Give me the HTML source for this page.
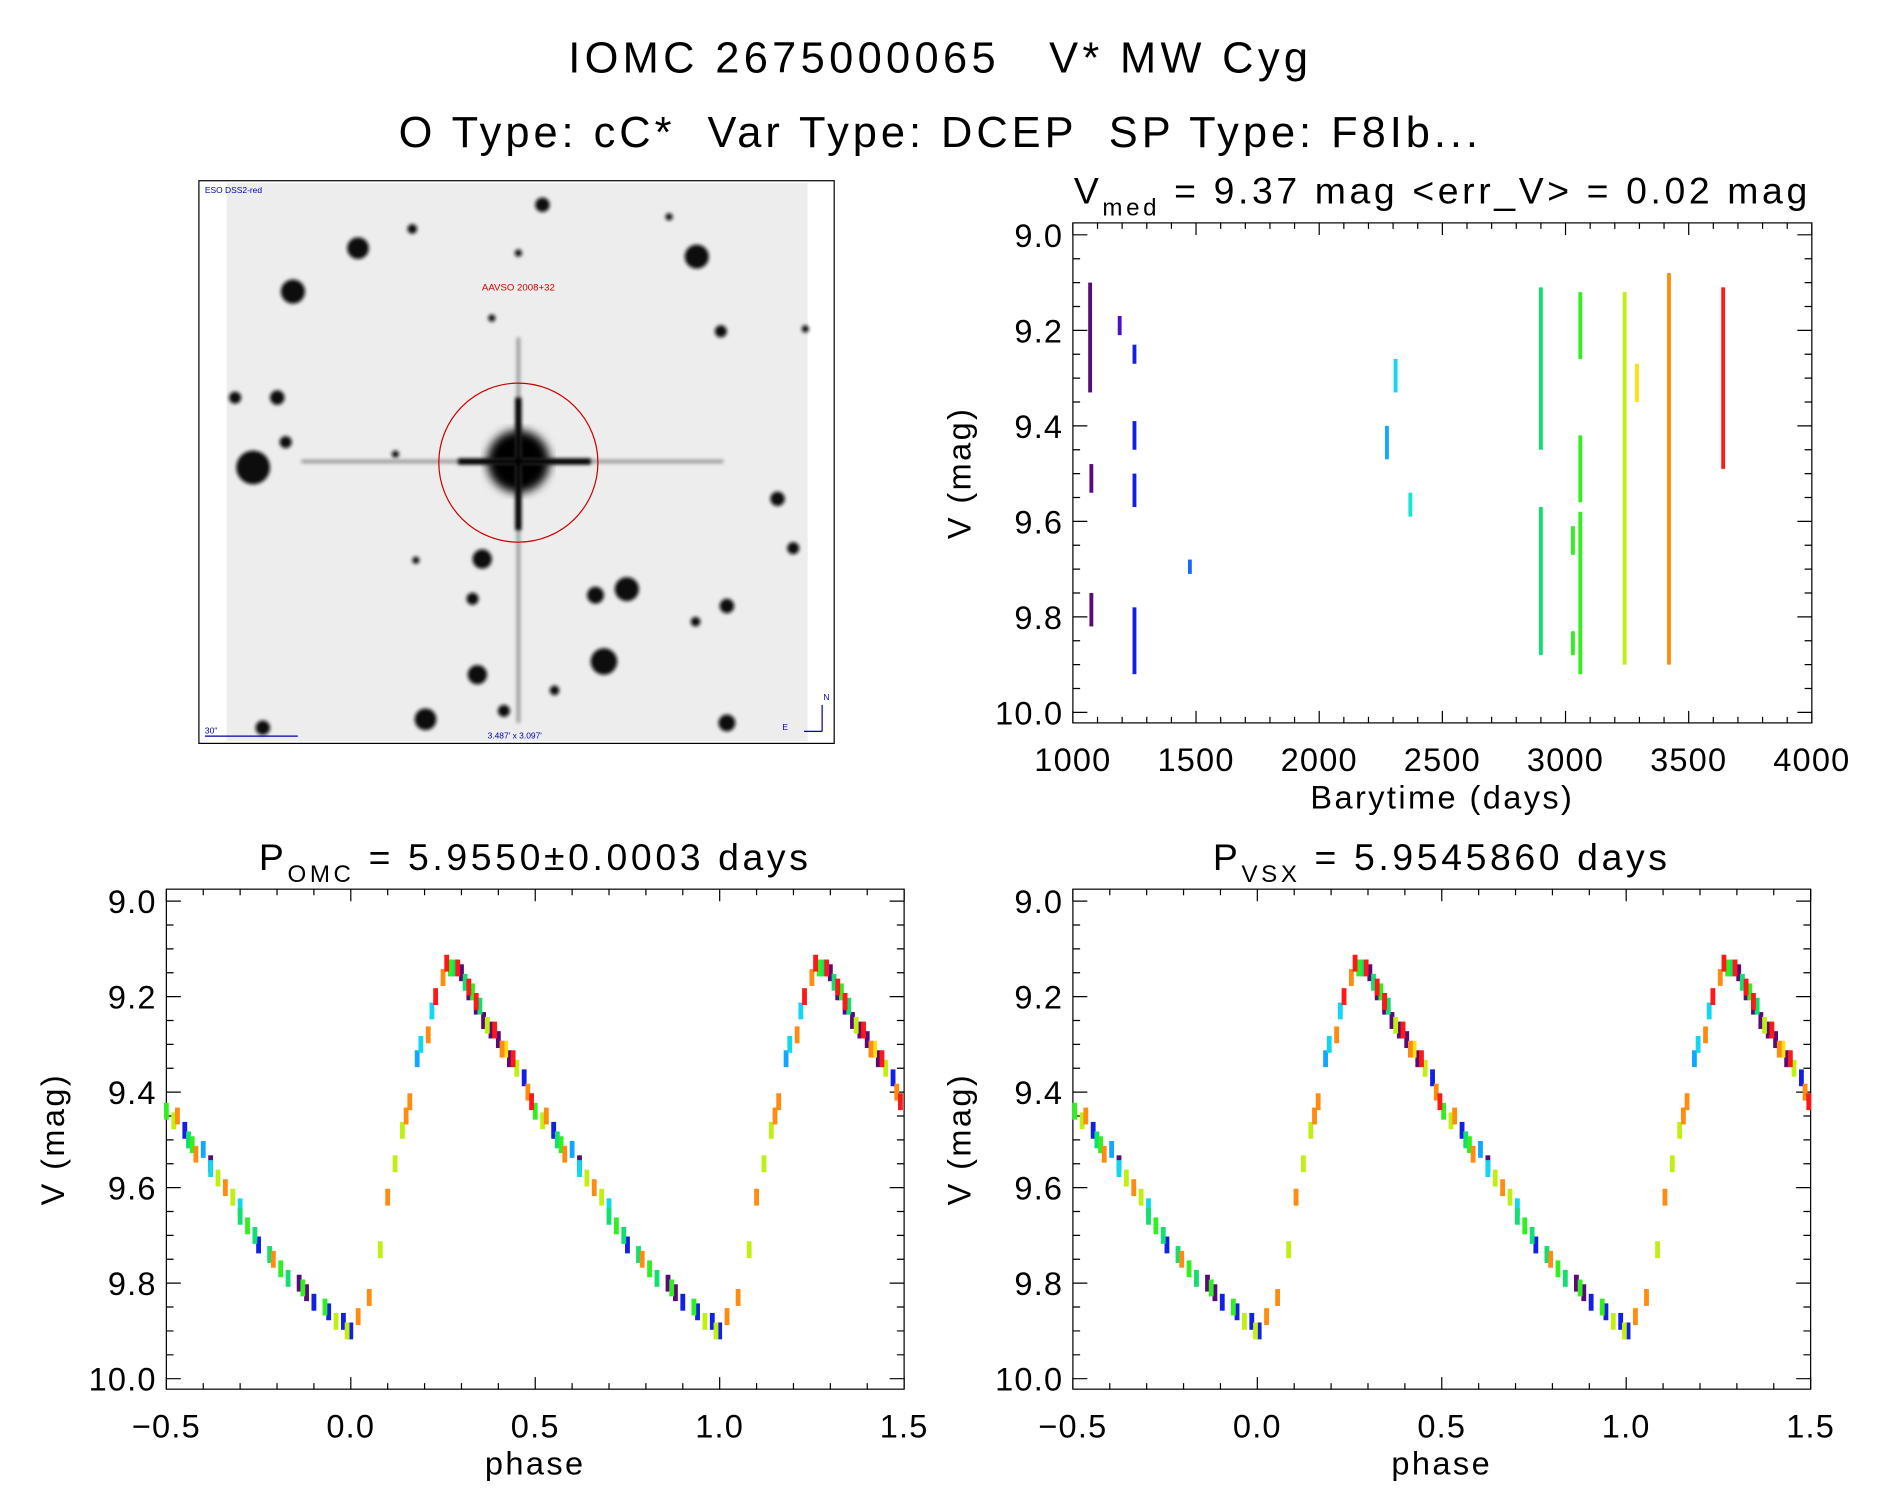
<!DOCTYPE html>
<html><head><meta charset="utf-8"><style>
html,body{margin:0;padding:0;background:#fff}
svg{display:block}
text{font-family:"Liberation Sans",sans-serif;fill:#000}
</style></head><body>
<svg id="fig" width="1889" height="1494" viewBox="0 0 1567 1240" preserveAspectRatio="none">
<text x="780" y="60" font-size="36" text-anchor="middle" letter-spacing="3.6">IOMC 2675000065 &#160;&#160;V* MW Cyg</text>
<text x="780" y="122" font-size="36" text-anchor="middle" letter-spacing="3.3">O Type: cC* &#160;Var Type: DCEP &#160;SP Type: F8Ib...</text>
<g id="img">
<defs><filter id="bl"><feGaussianBlur stdDeviation="1.5"/></filter><filter id="bl2"><feGaussianBlur stdDeviation="4"/></filter></defs>
<rect x="165" y="150" width="527" height="467" fill="#fff" stroke="#000" stroke-width="1"/>
<rect x="188" y="152" width="482" height="463" fill="#ededed"/>
<g fill="#111" filter="url(#bl)">
<circle cx="297" cy="206" r="9"/><circle cx="243" cy="242" r="10"/><circle cx="578" cy="213" r="10"/><circle cx="450" cy="170" r="6"/><circle cx="210" cy="388" r="14"/><circle cx="230" cy="330" r="6"/><circle cx="195" cy="330" r="5"/><circle cx="237" cy="367" r="5"/><circle cx="598" cy="275" r="5"/><circle cx="645" cy="414" r="6"/><circle cx="658" cy="455" r="5"/><circle cx="400" cy="464" r="8"/><circle cx="520" cy="489" r="10"/><circle cx="494" cy="494" r="7"/><circle cx="603" cy="503" r="6"/><circle cx="392" cy="497" r="5"/><circle cx="501" cy="549" r="11"/><circle cx="396" cy="560" r="8"/><circle cx="353" cy="597" r="9"/><circle cx="603" cy="600" r="7"/><circle cx="218" cy="604" r="6"/><circle cx="577" cy="516" r="4"/><circle cx="342" cy="190" r="4"/><circle cx="555" cy="180" r="3"/><circle cx="418" cy="590" r="5"/><circle cx="460" cy="573" r="4"/><circle cx="668" cy="273" r="3"/><circle cx="328" cy="377" r="3"/><circle cx="345" cy="465" r="3"/><circle cx="430" cy="210" r="3"/><circle cx="408" cy="264" r="3"/>
</g>
<circle cx="430" cy="383" r="26" fill="#000" filter="url(#bl2)"/>
<path d="M430 280V600M250 383H600" stroke="#999" stroke-width="3" filter="url(#bl)"/>
<path d="M430 330V440M380 383H490" stroke="#000" stroke-width="5" filter="url(#bl)"/>
<circle cx="430" cy="384" r="66" fill="none" stroke="#c00" stroke-width="1"/>
<text x="430" y="241" font-size="8" text-anchor="middle" style="fill:#c00">AAVSO 2008+32</text>
<text x="170" y="160" font-size="7" style="fill:#00a">ESO DSS2-red</text>
<text x="170" y="609" font-size="7" style="fill:#00a">30"</text>
<line x1="170" y1="611" x2="247" y2="611" stroke="#00a"/>
<text x="427" y="613" font-size="7" text-anchor="middle" style="fill:#00a">3.487' x 3.097'</text>
<path d="M682 607V585M682 607H667" stroke="#00a" fill="none"/>
<text x="683" y="581" font-size="7" style="fill:#00a">N</text><text x="649" y="606" font-size="7" style="fill:#00a">E</text>
</g>
</svg>
<script>
// ---- top panel data: season clusters (barytime, mag low, mag high)
const seasonTimes=[1070,1075,1075,1190,1250,1250,1250,1250,1475,2275,2310,2370,2900,2900,3060,3060,3060,3030,3030,3240,3290,3420,3640];
const seasonMagLo=[9.10,9.48,9.75,9.17,9.23,9.39,9.50,9.78,9.68,9.40,9.26,9.54,9.11,9.57,9.12,9.42,9.58,9.61,9.83,9.12,9.27,9.08,9.11];
const seasonMagHi=[9.33,9.54,9.82,9.21,9.27,9.45,9.57,9.92,9.71,9.47,9.33,9.59,9.45,9.88,9.26,9.56,9.92,9.67,9.88,9.90,9.35,9.90,9.49];
const seasonColor=["#5a0a78","#5a0a78","#5a0a78","#4a10d0","#1020e8","#1020e8","#1020e8","#1020e8","#1868ff","#10a8ff","#10d8f0","#10e8d0","#10e070","#10e070","#30f020","#30f020","#30f020","#30f020","#30f020","#c0f010","#ffe010","#ff8c10","#ff1818"];
const timeTicks=[1000,1500,2000,2500,3000,3500,4000];
const magTicks=[9.0,9.2,9.4,9.6,9.8,10.0];
const phaseTicks=[-0.5,0.0,0.5,1.0,1.5];
// ---- phased points (phase 0..1, mag), per colour group
const phPurple=[0.30,0.32,0.34,0.36,0.38,0.40,0.43,0.86,0.88,0.62];
const mgPurple=[9.15,9.19,9.22,9.25,9.27,9.29,9.33,9.80,9.82,9.55];
const phBlue=[0.94,0.98,0.00,0.90,0.75,0.55,0.47];
const mgBlue=[9.86,9.88,9.90,9.84,9.72,9.48,9.37];
const phLBlue=[0.18,0.60];
const mgLBlue=[9.33,9.52];
const phCyan=[0.19,0.70,0.62,0.22];
const mgCyan=[9.30,9.64,9.56,9.23];
const phGCyan=[0.28,0.31,0.35,0.70,0.74,0.78,0.83,0.56];
const mgGCyan=[9.14,9.17,9.22,9.66,9.70,9.74,9.79,9.50];
const phGreen=[0.27,0.33,0.50,0.57,0.72,0.81,0.87,0.93];
const mgGreen=[9.14,9.19,9.44,9.51,9.68,9.77,9.81,9.85];
const phYGreen=[0.08,0.12,0.14,0.37,0.45,0.52,0.64,0.68,0.96,0.99];
const mgYGreen=[9.73,9.55,9.48,9.26,9.35,9.46,9.58,9.62,9.88,9.90];
const phYellow=[0.42];
const mgYellow=[9.31];
const phOrange=[0.02,0.05,0.10,0.16,0.21,0.25,0.41,0.48,0.53,0.58,0.66,0.79,0.15];
const mgOrange=[9.87,9.83,9.62,9.42,9.28,9.16,9.31,9.40,9.45,9.53,9.60,9.75,9.45];
const phRed=[0.23,0.26,0.29,0.32,0.34,0.39,0.44,0.49];
const mgRed=[9.20,9.13,9.14,9.18,9.21,9.27,9.33,9.42];

const NS="http://www.w3.org/2000/svg";
const svg=document.getElementById('fig');
function mk(tag,attrs,parent){const e=document.createElementNS(NS,tag);for(const k in attrs)e.setAttribute(k,attrs[k]);(parent||svg).appendChild(e);return e;}

function panel(name,x0,x1,y0,y1,xmin,xmax,xmajor,xminor,xTicks,xfmt,xtitle,title){
  const g=mk('g',{});
  
  
  const ymin=8.975,ymax=10.022;
  const sx=v=>x0+(v-xmin)/(xmax-xmin)*(x1-x0);
  const sy=v=>y0+(v-ymin)/(ymax-ymin)*(y1-y0);
  const fr=mk('rect',{x:x0,y:y0,width:x1-x0,height:y1-y0,fill:'none',stroke:'#000','stroke-width':1},g);
  
  
  let d='';
  for(let v=xmin;v<=xmax+1e-9;v+=xminor){const X=sx(v);const maj=Math.abs(v/xmajor-Math.round(v/xmajor))<1e-6;const L=maj?10:5;d+=`M${X} ${y1}v${-L}M${X} ${y0}v${L}`;}
  for(let v=9.0;v<=10.0+1e-9;v+=0.05){const Y=sy(v);const maj=Math.abs(v/0.2-Math.round(v/0.2))<1e-6;const L=maj?12:6;d+=`M${x0} ${Y}h${L}M${x1} ${Y}h${-L}`;}
  mk('path',{d:d,stroke:'#000','stroke-width':1,fill:'none'},g);
  xTicks.forEach(v=>{const t=mk('text',{x:sx(v),y:y1+40,'font-size':27,'text-anchor':'middle','letter-spacing':1},g);t.textContent=xfmt(v);
    
    });
  magTicks.forEach(v=>{const t=mk('text',{x:x0-8,y:sy(v)+10,'font-size':27,'text-anchor':'end','letter-spacing':1},g);t.textContent=v.toFixed(1);
    
    });
  const xt=mk('text',{x:(x0+x1)/2,y:y1+71,'font-size':27,'text-anchor':'middle','letter-spacing':2},g);xt.textContent=xtitle;
  
  
  const yt=mk('text',{x:0,y:0,'font-size':27,'text-anchor':'middle','letter-spacing':2,transform:`translate(${x0-85},${(y0+y1)/2}) rotate(-90)`},g);yt.textContent='V (mag)';
  
  
  const tt=mk('text',{x:(x0+x1)/2,y:y0-16,'font-size':31,'text-anchor':'middle','letter-spacing':3},g);tt.innerHTML=title;
  
  
  return {g,sx,sy};
}

// top-right time panel
const tp=panel('time-series-panel',890,1503,185,600,1000,4000,500,100,timeTicks,v=>String(v),'Barytime (days)','V<tspan dy="10" font-size="20">med</tspan><tspan dy="-10"> = 9.37 mag &lt;err_V&gt; = 0.02 mag</tspan>');
seasonTimes.forEach((t,i)=>{
  const r=mk('rect',{x:tp.sx(t)-1.6,y:tp.sy(seasonMagLo[i]),width:3.2,height:tp.sy(seasonMagHi[i])-tp.sy(seasonMagLo[i]),fill:seasonColor[i]},tp.g);
  
  
});

const groups=[[phPurple,mgPurple,'#5a0a78'],[phBlue,mgBlue,'#1020e8'],[phLBlue,mgLBlue,'#10a8ff'],[phCyan,mgCyan,'#10d8f0'],[phGCyan,mgGCyan,'#10e070'],[phGreen,mgGreen,'#30f020'],[phYGreen,mgYGreen,'#c0f010'],[phYellow,mgYellow,'#ffe010'],[phOrange,mgOrange,'#ff8c10'],[phRed,mgRed,'#ff1818']];
function phasePanel(name,x0,title,shift){
  const p=panel(name,x0,x0+612,738,1153,-0.5,1.5,0.5,0.1,phaseTicks,v=>(v<0?'\u2212':'')+Math.abs(v).toFixed(1),'phase',title);
  groups.forEach(([ph,mg,c])=>{
    ph.forEach((q,i)=>{
      let pp=(q+shift+1)%1;
      const reps=pp>=0.5?[pp-1,pp]:[pp,pp+1];
      reps.forEach(x=>{
        const r=mk('rect',{x:p.sx(x)-2,y:p.sy(mg[i])-7,width:4,height:14,fill:c},p.g);
        
        
      });
    });
  });
}
phasePanel('phase-plot-omc',138,'P<tspan dy="10" font-size="20">OMC</tspan><tspan dy="-10"> = 5.9550±0.0003 days</tspan>',0);
phasePanel('phase-plot-vsx',890,'P<tspan dy="10" font-size="20">VSX</tspan><tspan dy="-10"> = 5.9545860 days</tspan>',0.005);
</script>
</body></html>
